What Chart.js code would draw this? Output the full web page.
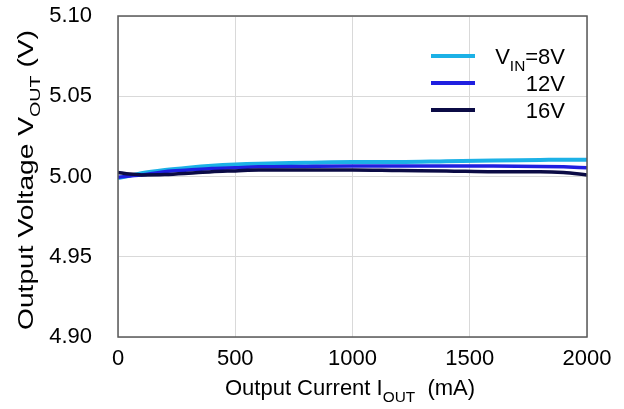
<!DOCTYPE html>
<html>
<head>
<meta charset="utf-8">
<style>
  html, body { margin: 0; padding: 0; background: #fff; }
  #wrap { width: 624px; height: 409px; }
</style>
<script src="https://cdn.jsdelivr.net/npm/chart.js@4/dist/chart.umd.min.js"></script>
</head>
<body>
<div id="wrap"><canvas id="chart" width="624" height="409"></canvas></div>
<script>
// output current (mA) and output voltage (V) per input voltage
const current = [0, 50, 100, 200, 300, 400, 500, 600, 800, 1000, 1200, 1400, 1600, 1800, 1900, 2000];
const vout8V  = [4.999, 5.0005, 5.002, 5.004, 5.0055, 5.0067, 5.0075, 5.008, 5.0085, 5.009, 5.009, 5.0095, 5.010, 5.0103, 5.0105, 5.0105];
const vout12V = [4.9995, 5.0003, 5.001, 5.003, 5.004, 5.005, 5.0055, 5.006, 5.0063, 5.0065, 5.0065, 5.0065, 5.0065, 5.0063, 5.006, 5.0055];
const vout16V = [5.0025, 5.0015, 5.001, 5.0012, 5.002, 5.003, 5.0035, 5.004, 5.004, 5.004, 5.0037, 5.0035, 5.003, 5.003, 5.0025, 5.001];
const xTicks = [0, 500, 1000, 1500, 2000];
const yTicks = [4.90, 4.95, 5.00, 5.05, 5.10];

const seriesNames = ['8V', '12V', '16V'];
const colors = ['#1cb1e6', '#1f1fe0', '#0b0b45'];
const font = 'Liberation Sans, Arial, sans-serif';

function pts(ys) {
    return current.map((x, i) => ({ x: x, y: ys[i] }));
}

// draw text with a subscript part: [[text, isSub], ...]
function richWidth(ctx, parts, size) {
    let w = 0;
    parts.forEach(p => {
        ctx.font = (p[1] ? size * 0.7 : size) + 'px ' + font;
        w += ctx.measureText(p[0]).width;
    });
    return w;
}
function richText(ctx, parts, x, y, size) {
    parts.forEach(p => {
        ctx.font = (p[1] ? size * 0.7 : size) + 'px ' + font;
        ctx.fillText(p[0], x, p[1] ? y + size * 0.3 : y);
        x += ctx.measureText(p[0]).width;
    });
}

const decor = {
    id: 'decor',
    afterDraw(chart) {
        const ctx = chart.ctx;
        const a = chart.chartArea;
        ctx.save();
        // frame
        ctx.strokeStyle = '#595959';
        ctx.lineWidth = 1.5;
        ctx.strokeRect(a.left, a.top, a.right - a.left, a.bottom - a.top);

        ctx.fillStyle = '#000';
        ctx.textBaseline = 'alphabetic';

        // x title
        const xParts = [['Output Current I', false], ['OUT', true], ['  (mA)', false]];
        const xw = richWidth(ctx, xParts, 22);
        richText(ctx, xParts, 350 - xw / 2, 395, 22);

        // y title (stretched along its length like the reference)
        const yParts = [['Output Voltage V', false], ['OUT', true], [' (V)', false]];
        const yw = richWidth(ctx, yParts, 22);
        ctx.save();
        ctx.translate(33, 180);
        ctx.rotate(-Math.PI / 2);
        ctx.scale(300 / yw, 1);
        richText(ctx, yParts, -yw / 2, 0, 22);
        ctx.restore();

        // legend
        const rows = [56, 83, 110];
        rows.forEach((ly, i) => {
            ctx.strokeStyle = colors[i];
            ctx.lineWidth = 4;
            ctx.beginPath();
            ctx.moveTo(431, ly);
            ctx.lineTo(475, ly);
            ctx.stroke();
            const parts = i === 0
                ? [['V', false], ['IN', true], ['=' + seriesNames[i], false]]
                : [[seriesNames[i], false]];
            const w = richWidth(ctx, parts, 22);
            richText(ctx, parts, 565 - w, ly + 8, 22);
        });
        ctx.restore();
    }
};

const ctx = document.getElementById('chart').getContext('2d');
new Chart(ctx, {
    type: 'line',
    data: {
        datasets: [
            { label: '16V', data: pts(vout16V), borderColor: colors[2], borderWidth: 3.5 },
            { label: '12V', data: pts(vout12V), borderColor: colors[1], borderWidth: 3.5 },
            { label: '8V', data: pts(vout8V), borderColor: colors[0], borderWidth: 4 }
        ]
    },
    options: {
        responsive: false,
        animation: false,
        devicePixelRatio: 1,
        elements: {
            point: { radius: 0 },
            line: { tension: 0.4, cubicInterpolationMode: 'monotone', fill: false }
        },
        layout: { padding: { top: 16, right: 37, left: 0, bottom: 0 } },
        plugins: {
            legend: { display: false },
            tooltip: { enabled: false }
        },
        scales: {
            x: {
                type: 'linear',
                min: 0,
                max: 2000,
                afterBuildTicks: axis => { axis.ticks = xTicks.map(v => ({ value: v })); },
                afterFit: axis => {
                    axis.height = 72;
                    axis.paddingLeft = 0;
                    axis.paddingRight = 0;
                },
                grid: { color: '#d9d9d9', lineWidth: 1, drawTicks: false },
                border: { display: false },
                ticks: {
                    color: '#000',
                    padding: 9,
                    maxRotation: 0,
                    font: { family: font, size: 22 },
                    callback: v => String(v)
                }
            },
            y: {
                min: 4.90,
                max: 5.10,
                afterBuildTicks: axis => { axis.ticks = yTicks.map(v => ({ value: v })); },
                afterFit: axis => {
                    axis.width = 118;
                    axis.paddingTop = 0;
                    axis.paddingBottom = 0;
                },
                grid: { color: '#d9d9d9', lineWidth: 1, drawTicks: false },
                border: { display: false },
                ticks: {
                    color: '#000',
                    padding: 26,
                    font: { family: font, size: 22 },
                    callback: v => Number(v).toFixed(2)
                }
            }
        }
    },
    plugins: [decor]
});
</script>
</body>
</html>
